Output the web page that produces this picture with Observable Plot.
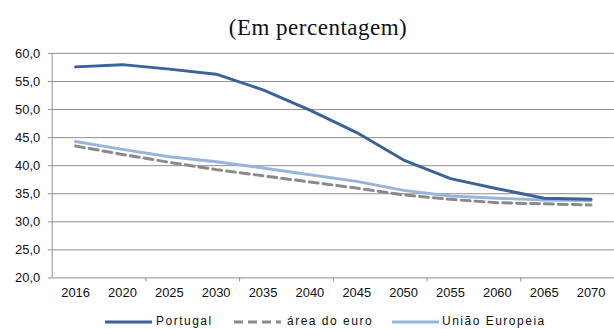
<!DOCTYPE html>
<html>
<head>
<meta charset="utf-8">
<script src="https://cdn.jsdelivr.net/npm/d3@7"></script>
<script src="https://cdn.jsdelivr.net/npm/@observablehq/plot@0.6"></script>
<style>
  html, body { margin: 0; padding: 0; background: #fff; overflow: hidden; }
  #wrap { position: relative; width: 614px; height: 329px; overflow: hidden; }
  #title { position: absolute; left: 0; top: 17px; width: 636px; text-align: center;
    font-family: "Liberation Serif", "Times New Roman", serif; font-size: 23px; line-height: 22px;
    letter-spacing: 0.5px; color: #111; }
  #chart { position: absolute; left: 0; top: 40px; }
  .leg { position: absolute; top: 313px; height: 16px; font-family: "Liberation Sans", Arial, sans-serif;
    font-size: 12px; line-height: 16px; letter-spacing: 1.5px; color: #111; }
  .sw { position: absolute; top: 313px; }
</style>
</head>
<body>
<div id="wrap">
  <div id="title">(Em percentagem)</div>
  <div id="chart"></div>
</div>
<script>
const years = ["2016","2020","2025","2030","2035","2040","2045","2050","2055","2060","2065","2070"];
const portugal      = [57.6, 58.0, 57.2, 56.3, 53.5, 49.9, 45.9, 41.0, 37.7, 35.9, 34.2, 34.0];
const areaEuro      = [43.5, 42.0, 40.6, 39.3, 38.2, 37.1, 36.0, 34.8, 34.0, 33.4, 33.2, 33.0];
const uniaoEuropeia = [44.3, 42.9, 41.6, 40.7, 39.6, 38.4, 37.2, 35.6, 34.6, 34.2, 33.9, 33.8];
const yTicks = [20, 25, 30, 35, 40, 45, 50, 55, 60];
const seriesNames = ["Portugal", "área do euro", "União Europeia"];
const seriesColors = ["#3b6299", "#8a8a8a", "#97b5da"];

const rows = (vals) => years.map((y, i) => ({i, year: y, v: vals[i]}));
const dPT = rows(portugal), dEA = rows(areaEuro), dEU = rows(uniaoEuropeia);
const boundaries = [1.5, 3.5, 5.5, 7.5, 9.5];
const grid = "#8e8e8e";

const chart = Plot.plot({
  width: 618, height: 263,
  marginTop: 13, marginBottom: 24, marginLeft: 52, marginRight: 0,
  x: {domain: [-0.5, 11.5]},
  y: {domain: [20, 60]},
  style: {fontFamily: "Liberation Sans, Arial, sans-serif", fontSize: "13px", color: "#111", background: "white"},
  marks: [
    Plot.ruleY(yTicks, {stroke: grid, strokeWidth: 1}),
    Plot.ruleX([-0.5], {y1: 20, y2: 60, stroke: grid, strokeWidth: 1}),
    Plot.ruleX(boundaries, {y1: 20, y2: 19.3, stroke: grid, strokeWidth: 1}),
    Plot.axisY({ticks: yTicks, tickSize: 4, tickPadding: 8, stroke: grid, fill: "#111",
      tickFormat: d => d.toFixed(1).replace(".", ","), label: null}),
    Plot.axisX({ticks: d3.range(years.length), tickSize: 0, tickPadding: 10,
      tickFormat: i => years[i], fill: "#111", label: null}),
    Plot.line(dEA, {x: "i", y: "v", stroke: seriesColors[1], strokeWidth: 3, strokeDasharray: "9,5"}),
    Plot.line(dEU, {x: "i", y: "v", stroke: seriesColors[2], strokeWidth: 3}),
    Plot.line(dPT, {x: "i", y: "v", stroke: seriesColors[0], strokeWidth: 3})
  ]
});
document.getElementById("chart").appendChild(chart);

// legend
const wrap = document.getElementById("wrap");
const legPos = [{sx: 105, tx: 156, dash: null}, {sx: 234, tx: 287, dash: "9,5"}, {sx: 392, tx: 442, dash: null}];
seriesNames.forEach((name, k) => {
  const p = legPos[k];
  const sw = document.createElementNS("http://www.w3.org/2000/svg", "svg");
  sw.setAttribute("class", "sw");
  sw.setAttribute("width", 48); sw.setAttribute("height", 16);
  sw.style.left = p.sx + "px";
  const ln = document.createElementNS("http://www.w3.org/2000/svg", "line");
  ln.setAttribute("x1", 0); ln.setAttribute("x2", 47); ln.setAttribute("y1", 9); ln.setAttribute("y2", 9);
  ln.setAttribute("stroke", seriesColors[k]); ln.setAttribute("stroke-width", 3);
  if (p.dash) ln.setAttribute("stroke-dasharray", p.dash);
  sw.appendChild(ln);
  wrap.appendChild(sw);
  const t = document.createElement("div");
  t.className = "leg"; t.style.left = p.tx + "px"; t.textContent = name;
  wrap.appendChild(t);
});
</script>
</body>
</html>
